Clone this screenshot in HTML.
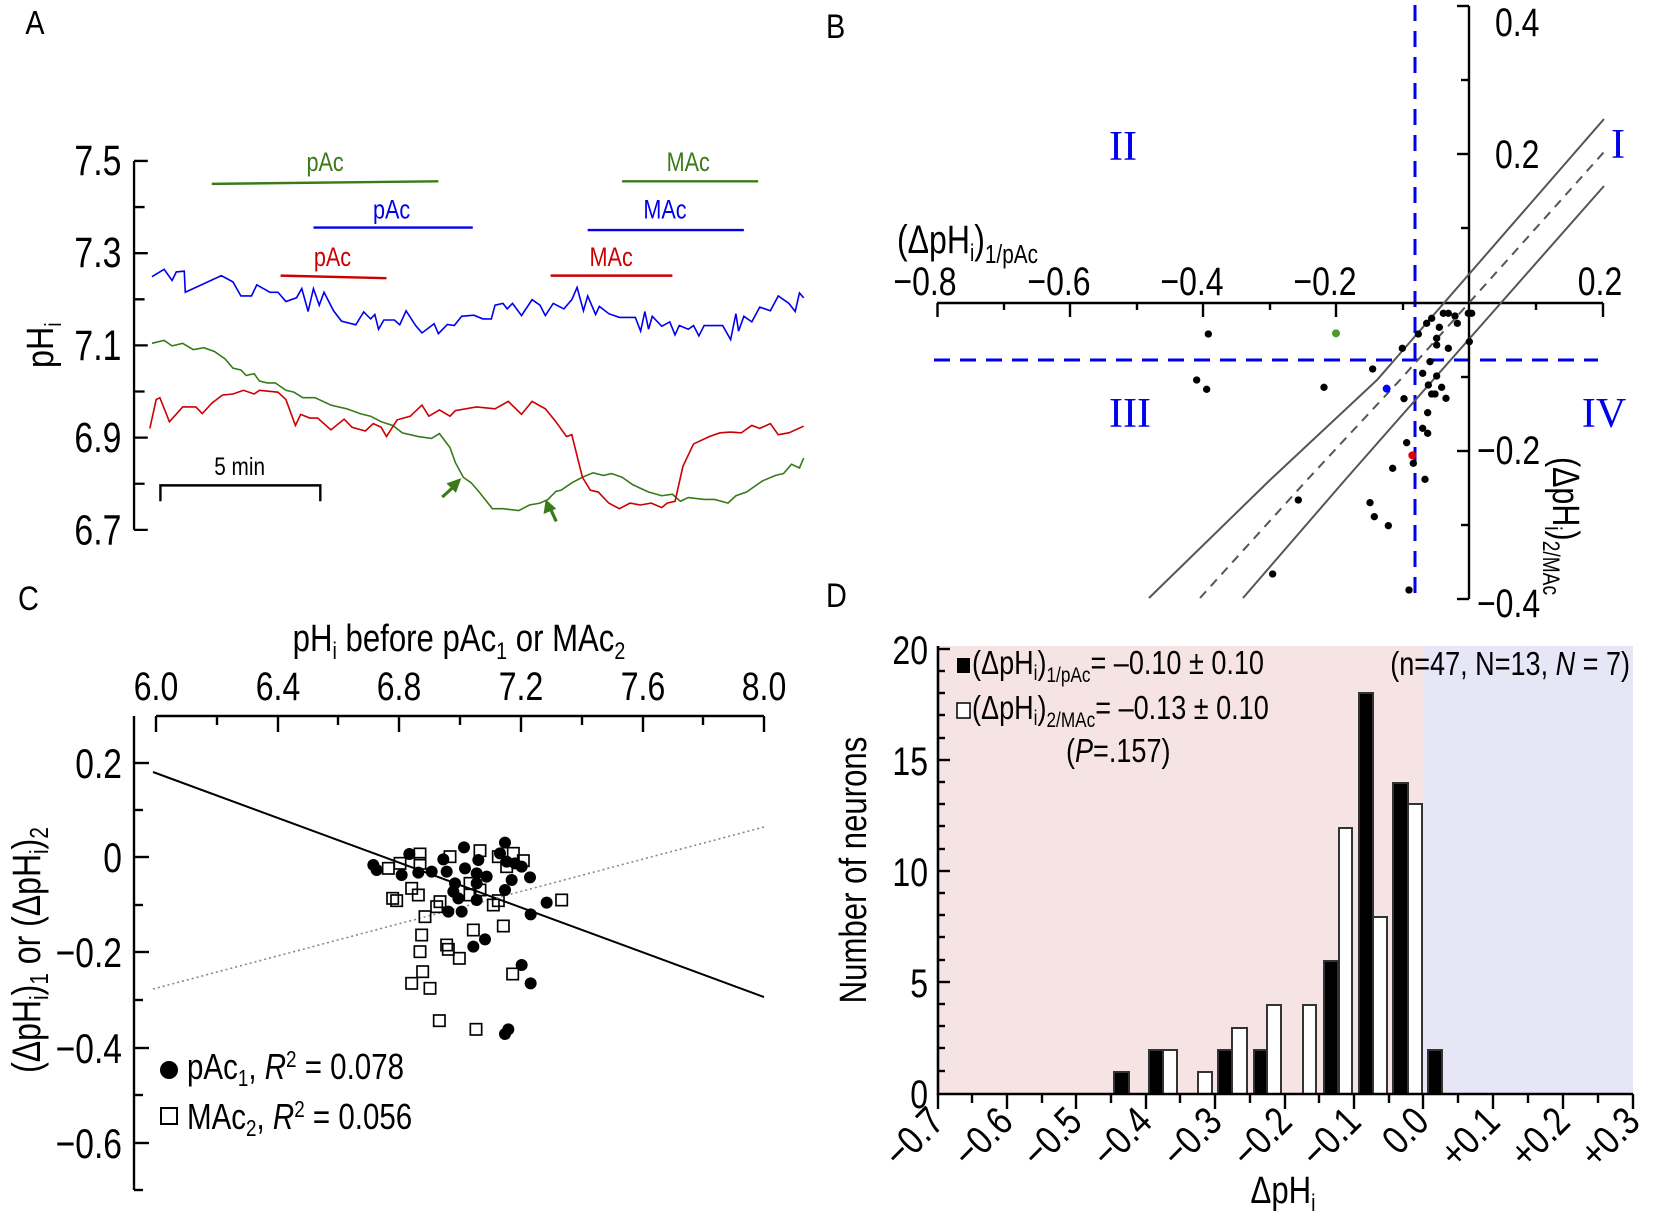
<!DOCTYPE html>
<html><head><meta charset="utf-8">
<style>
html,body{margin:0;padding:0;background:#fff;}
svg{display:block;}
text{font-family:"Liberation Sans",Arial,sans-serif;}
</style></head>
<body>
<svg width="1655" height="1217" viewBox="0 0 1655 1217" xmlns="http://www.w3.org/2000/svg">
<rect width="1655" height="1217" fill="#fff"/>

<!-- ============ PANEL A (view coords) ============ -->
<g transform="scale(1.0555)">
  <text transform="translate(24,32) scale(0.85,1)" font-size="32">A</text>
  <path d="M127 152.5 V502 M127 152.5 H140 M127 196.2 H137 M127 239.9 H140 M127 283.6 H137 M127 327.2 H140 M127 370.9 H137 M127 414.6 H140 M127 458.3 H137 M127 502 H140" stroke="#000" stroke-width="2.2" fill="none"/>
  <g font-size="40" text-anchor="end">
    <text transform="translate(115,166) scale(0.8,1)">7.5</text>
    <text transform="translate(115,253) scale(0.8,1)">7.3</text>
    <text transform="translate(115,341) scale(0.8,1)">7.1</text>
    <text transform="translate(115,428) scale(0.8,1)">6.9</text>
    <text transform="translate(115,516) scale(0.8,1)">6.7</text>
  </g>
  <text transform="translate(50,327) rotate(-90) scale(0.85,1)" font-size="36" text-anchor="middle">pH<tspan font-size="22" dy="8">i</tspan></text>

  <g transform="matrix(0.5016 0 0 0.3505 0 0)" fill="none" stroke-width="1.6">
    <path vector-effect="non-scaling-stroke" stroke="#0000ee" d="M287,748 L310,728 L325,758 L333,735 L348,733 L350,790 L418,745 L440,762 L455,800 L475,800 L485,770 L510,790 L525,790 L540,815 L560,805 L570,780 L582,842 L592,780 L603,825 L612,790 L630,840 L645,868 L672,878 L687,843 L700,862 L708,850 L715,890 L725,865 L745,865 L755,878 L767,840 L785,880 L797,900 L820,875 L828,902 L845,877 L858,880 L872,855 L895,852 L912,862 L928,862 L935,825 L950,820 L958,835 L968,820 L985,853 L1005,810 L1020,825 L1030,853 L1045,820 L1065,835 L1080,810 L1090,777 L1102,840 L1110,800 L1125,850 L1132,828 L1150,848 L1170,858 L1200,858 L1210,895 L1218,842 L1225,890 L1232,855 L1250,882 L1265,870 L1275,905 L1283,880 L1300,890 L1310,880 L1320,908 L1330,880 L1350,880 L1365,880 L1380,918 L1390,848 L1395,895 L1405,855 L1420,870 L1435,830 L1455,840 L1470,800 L1490,820 L1502,842 L1510,792 L1518,805"/>
    <path vector-effect="non-scaling-stroke" stroke="#3a7a1a" d="M287,928 L310,920 L325,935 L345,928 L365,945 L385,940 L405,950 L425,970 L440,995 L455,1000 L465,1015 L480,1010 L490,1030 L505,1035 L520,1035 L540,1055 L555,1060 L572,1075 L595,1075 L625,1095 L655,1105 L680,1118 L700,1125 L720,1140 L742,1150 L760,1170 L790,1180 L815,1185 L830,1172 L850,1210 L860,1250 L875,1290 L890,1305 L905,1330 L930,1375 L950,1375 L980,1380 L1000,1365 L1020,1360 L1035,1350 L1050,1328 L1060,1325 L1080,1305 L1100,1290 L1120,1278 L1140,1285 L1155,1280 L1175,1290 L1195,1310 L1210,1320 L1225,1330 L1250,1340 L1270,1336 L1285,1355 L1300,1345 L1330,1350 L1350,1350 L1375,1360 L1390,1340 L1410,1330 L1440,1300 L1465,1285 L1480,1280 L1495,1255 L1510,1265 L1518,1238"/>
    <path vector-effect="non-scaling-stroke" stroke="#cc0000" d="M283,1158 L295,1080 L302,1075 L320,1140 L345,1100 L370,1100 L382,1118 L400,1090 L420,1068 L440,1065 L460,1055 L480,1065 L490,1055 L525,1060 L540,1080 L558,1150 L568,1120 L585,1130 L600,1130 L625,1162 L650,1133 L665,1155 L690,1165 L705,1145 L720,1155 L730,1180 L750,1135 L775,1125 L797,1095 L810,1125 L830,1108 L850,1125 L860,1110 L900,1100 L935,1105 L960,1085 L985,1120 L1005,1085 L1030,1105 L1050,1140 L1070,1180 L1080,1175 L1100,1290 L1115,1325 L1130,1330 L1150,1360 L1170,1375 L1190,1360 L1210,1365 L1230,1360 L1250,1372 L1260,1360 L1275,1355 L1290,1260 L1310,1200 L1340,1180 L1360,1170 L1380,1168 L1400,1170 L1420,1150 L1435,1158 L1455,1145 L1470,1175 L1490,1170 L1518,1152"/>
    <g stroke-width="2.4">
      <path vector-effect="non-scaling-stroke" stroke="#3a7a1a" d="M400,497 L828,490 M1175,490 H1432"/>
      <path vector-effect="non-scaling-stroke" stroke="#0000ee" d="M592,615 H893 M1110,622 H1405"/>
      <path vector-effect="non-scaling-stroke" stroke="#cc0000" d="M530,745 L730,752 M1040,745 H1270"/>
      <path vector-effect="non-scaling-stroke" stroke="#000" d="M303,1355 V1312 H605 V1355"/>
    </g>
  </g>
  <g font-size="25" text-anchor="middle">
    <text transform="translate(308,162) scale(0.82,1)" fill="#3a7a1a">pAc</text>
    <text transform="translate(652,162) scale(0.82,1)" fill="#3a7a1a">MAc</text>
    <text transform="translate(371,207) scale(0.82,1)" fill="#0000ee">pAc</text>
    <text transform="translate(630,207) scale(0.82,1)" fill="#0000ee">MAc</text>
    <text transform="translate(315,252) scale(0.82,1)" fill="#cc0000">pAc</text>
    <text transform="translate(579,252) scale(0.82,1)" fill="#cc0000">MAc</text>
    <text transform="translate(227,450) scale(0.82,1)" fill="#000" font-size="24">5 min</text>
  </g>
  <g fill="#3a7a1a" stroke="#3a7a1a" stroke-width="3">
    <line x1="419" y1="471" x2="431" y2="460"/>
    <polygon points="437,453 423,458 432,467" stroke="none"/>
    <line x1="527" y1="494" x2="521" y2="481"/>
    <polygon points="517,473 515,487 527,482" stroke="none"/>
  </g>
</g>

<!-- ============ PANEL B (native coords) ============ -->
<text transform="translate(826,38) scale(0.85,1)" font-size="34">B</text>
<path d="M1415 5 V600 M934 360 H1598" stroke="#0000ee" stroke-width="3" stroke-dasharray="16,10" fill="none"/>
<path d="M937 303 H1603 M1469 6 V599" stroke="#000" stroke-width="2.4" fill="none"/>
<g stroke="#000" stroke-width="2.4">
  <line x1="937.5" y1="303" x2="937.5" y2="317"/><line x1="1004" y1="303" x2="1004" y2="310"/>
  <line x1="1070" y1="303" x2="1070" y2="317"/><line x1="1137" y1="303" x2="1137" y2="310"/>
  <line x1="1203" y1="303" x2="1203" y2="317"/><line x1="1270" y1="303" x2="1270" y2="310"/>
  <line x1="1336" y1="303" x2="1336" y2="317"/><line x1="1403" y1="303" x2="1403" y2="310"/>
  <line x1="1536" y1="303" x2="1536" y2="310"/><line x1="1603" y1="303" x2="1603" y2="317"/>
  <line x1="1457" y1="6" x2="1469" y2="6"/><line x1="1461" y1="80" x2="1469" y2="80"/>
  <line x1="1457" y1="154" x2="1469" y2="154"/><line x1="1461" y1="228" x2="1469" y2="228"/>
  <line x1="1461" y1="377" x2="1469" y2="377"/><line x1="1457" y1="451" x2="1469" y2="451"/>
  <line x1="1461" y1="525" x2="1469" y2="525"/><line x1="1457" y1="599" x2="1469" y2="599"/>
</g>
<g font-size="40" text-anchor="middle">
  <text transform="translate(925,295) scale(0.8,1)">−0.8</text>
  <text transform="translate(1059,295) scale(0.8,1)">−0.6</text>
  <text transform="translate(1192,295) scale(0.8,1)">−0.4</text>
  <text transform="translate(1325,295) scale(0.8,1)">−0.2</text>
  <text transform="translate(1600,295) scale(0.8,1)">0.2</text>
</g>
<g font-size="40">
  <text transform="translate(1495,36) scale(0.8,1)">0.4</text>
  <text transform="translate(1495,168) scale(0.8,1)">0.2</text>
  <text transform="translate(1477,464) scale(0.8,1)">−0.2</text>
  <text transform="translate(1477,617) scale(0.8,1)">−0.4</text>
</g>
<text transform="translate(897,253) scale(0.8,1)" font-size="40">(ΔpH<tspan font-size="24" dy="8">i</tspan><tspan dy="-8">)</tspan><tspan font-size="26" dy="10">1/pAc</tspan></text>
<text transform="translate(1553,457) rotate(90) scale(0.8,1)" font-size="38">(ΔpH<tspan font-size="24" dy="8">i</tspan><tspan dy="-8">)</tspan><tspan font-size="24" dy="10">2/MAc</tspan></text>
<g font-size="42" fill="#0000ee" text-anchor="middle" style="font-family:'Liberation Serif',serif">
  <text x="1123" y="160" style="font-family:'Liberation Serif',serif">II</text>
  <text x="1618" y="158" style="font-family:'Liberation Serif',serif">I</text>
  <text x="1130" y="427" style="font-family:'Liberation Serif',serif">III</text>
  <text x="1604" y="427" style="font-family:'Liberation Serif',serif">IV</text>
</g>
<g fill="none" stroke="#555" stroke-width="2">
  <polyline points="1149,598 1270,480 1377,380 1604,119"/>
  <polyline points="1243,598 1345,480 1433,380 1604,186"/>
  <polyline points="1200,598 1307,480 1400,380 1604,152" stroke-dasharray="9,7"/>
</g>
<g transform="translate(1100,280) scale(0.33333)" fill="#000">
  <circle cx="325" cy="162" r="11"/><circle cx="290" cy="300" r="11"/><circle cx="320" cy="328" r="11"/>
  <circle cx="672" cy="322" r="11"/><circle cx="818" cy="267" r="11"/><circle cx="907" cy="205" r="11"/>
  <circle cx="912" cy="356" r="11"/><circle cx="955" cy="162" r="11"/><circle cx="980" cy="130" r="11"/>
  <circle cx="995" cy="115" r="11"/><circle cx="1030" cy="100" r="11"/><circle cx="1045" cy="100" r="11"/>
  <circle cx="1065" cy="108" r="11"/><circle cx="1072" cy="130" r="11"/><circle cx="1018" cy="142" r="11"/>
  <circle cx="1010" cy="175" r="11"/><circle cx="1010" cy="195" r="11"/><circle cx="1045" cy="205" r="11"/>
  <circle cx="1105" cy="100" r="11"/><circle cx="1115" cy="100" r="11"/><circle cx="1108" cy="185" r="11"/>
  <circle cx="990" cy="245" r="11"/><circle cx="968" cy="280" r="11"/><circle cx="1010" cy="288" r="11"/>
  <circle cx="985" cy="315" r="11"/><circle cx="1025" cy="322" r="11"/><circle cx="995" cy="342" r="11"/>
  <circle cx="1005" cy="342" r="11"/><circle cx="1038" cy="355" r="11"/><circle cx="983" cy="398" r="11"/>
  <circle cx="968" cy="445" r="11"/><circle cx="983" cy="460" r="11"/><circle cx="920" cy="488" r="11"/>
  <circle cx="940" cy="550" r="11"/><circle cx="878" cy="565" r="11"/><circle cx="975" cy="598" r="11"/>
  <circle cx="595" cy="660" r="11"/><circle cx="810" cy="668" r="11"/><circle cx="823" cy="710" r="11"/>
  <circle cx="865" cy="737" r="11"/><circle cx="518" cy="882" r="11"/><circle cx="927" cy="930" r="11"/>
  <circle cx="708" cy="160" r="12" fill="#4a9a2a"/>
  <circle cx="860" cy="326" r="12" fill="#0000ff"/>
  <circle cx="937" cy="526" r="12" fill="#dd0000"/>
</g>

<!-- ============ PANEL C (native) ============ -->
<text transform="translate(18,610) scale(0.85,1)" font-size="34">C</text>
<text transform="translate(459,651) scale(0.82,1)" font-size="38" text-anchor="middle">pH<tspan font-size="24" dy="8">i</tspan><tspan dy="-8"> before pAc</tspan><tspan font-size="24" dy="8">1</tspan><tspan dy="-8"> or MAc</tspan><tspan font-size="24" dy="8">2</tspan></text>
<g font-size="40" text-anchor="middle">
  <text transform="translate(156,700) scale(0.8,1)">6.0</text><text transform="translate(278,700) scale(0.8,1)">6.4</text><text transform="translate(399,700) scale(0.8,1)">6.8</text>
  <text transform="translate(521,700) scale(0.8,1)">7.2</text><text transform="translate(643,700) scale(0.8,1)">7.6</text><text transform="translate(764,700) scale(0.8,1)">8.0</text>
</g>
<path d="M156 716 H764 M134 716 V1190" stroke="#000" stroke-width="2.4" fill="none"/>
<g stroke="#000" stroke-width="2.4">
  <line x1="156" y1="716" x2="156" y2="732"/><line x1="217" y1="716" x2="217" y2="725"/>
  <line x1="278" y1="716" x2="278" y2="732"/><line x1="338" y1="716" x2="338" y2="725"/>
  <line x1="399" y1="716" x2="399" y2="732"/><line x1="460" y1="716" x2="460" y2="725"/>
  <line x1="521" y1="716" x2="521" y2="732"/><line x1="582" y1="716" x2="582" y2="725"/>
  <line x1="643" y1="716" x2="643" y2="732"/><line x1="703" y1="716" x2="703" y2="725"/>
  <line x1="764" y1="716" x2="764" y2="732"/>
  <line x1="134" y1="763" x2="149" y2="763"/><line x1="134" y1="810" x2="143" y2="810"/>
  <line x1="134" y1="857" x2="149" y2="857"/><line x1="134" y1="905" x2="143" y2="905"/>
  <line x1="134" y1="952" x2="149" y2="952"/><line x1="134" y1="1000" x2="143" y2="1000"/>
  <line x1="134" y1="1048" x2="149" y2="1048"/><line x1="134" y1="1095" x2="143" y2="1095"/>
  <line x1="134" y1="1143" x2="149" y2="1143"/><line x1="134" y1="1190" x2="143" y2="1190"/>
</g>
<g font-size="42" text-anchor="end">
  <text transform="translate(122,778) scale(0.8,1)">0.2</text><text transform="translate(122,872) scale(0.8,1)">0</text><text transform="translate(122,967) scale(0.8,1)">−0.2</text>
  <text transform="translate(122,1063) scale(0.8,1)">−0.4</text><text transform="translate(122,1158) scale(0.8,1)">−0.6</text>
</g>
<text transform="translate(40,950) rotate(-90) scale(0.8,1)" font-size="40" text-anchor="middle">(ΔpH<tspan font-size="26" dy="8">i</tspan><tspan dy="-8">)</tspan><tspan font-size="26" dy="8">1</tspan><tspan dy="-8"> or (ΔpH</tspan><tspan font-size="26" dy="8">i</tspan><tspan dy="-8">)</tspan><tspan font-size="26" dy="8">2</tspan></text>
<line x1="153" y1="772" x2="764" y2="997" stroke="#000" stroke-width="2"/>
<line x1="153" y1="989" x2="764" y2="827" stroke="#888" stroke-width="1.6" stroke-dasharray="2,3"/>
<g transform="translate(380,830) scale(0.33333)">
  <g fill="none" stroke="#000" stroke-width="5">
    <rect x="103" y="55" width="34" height="34"/><rect x="43" y="83" width="34" height="34"/><rect x="103" y="83" width="34" height="34"/>
    <rect x="193" y="63" width="34" height="34"/><rect x="283" y="45" width="34" height="34"/><rect x="338" y="63" width="34" height="34"/>
    <rect x="383" y="53" width="34" height="34"/><rect x="413" y="75" width="34" height="34"/><rect x="363" y="93" width="34" height="34"/>
    <rect x="78" y="158" width="34" height="34"/><rect x="98" y="178" width="34" height="34"/><rect x="21" y="188" width="34" height="34"/>
    <rect x="33" y="195" width="34" height="34"/><rect x="163" y="198" width="34" height="34"/><rect x="153" y="213" width="34" height="34"/>
    <rect x="118" y="243" width="34" height="34"/><rect x="253" y="143" width="34" height="34"/><rect x="283" y="163" width="34" height="34"/>
    <rect x="253" y="178" width="34" height="34"/><rect x="323" y="208" width="34" height="34"/><rect x="338" y="195" width="34" height="34"/>
    <rect x="528" y="193" width="34" height="34"/><rect x="263" y="283" width="34" height="34"/><rect x="353" y="271" width="34" height="34"/>
    <rect x="108" y="298" width="34" height="34"/><rect x="183" y="328" width="34" height="34"/><rect x="188" y="341" width="34" height="34"/>
    <rect x="103" y="348" width="34" height="34"/><rect x="221" y="368" width="34" height="34"/><rect x="111" y="408" width="34" height="34"/>
    <rect x="78" y="443" width="34" height="34"/><rect x="133" y="458" width="34" height="34"/><rect x="381" y="415" width="34" height="34"/>
    <rect x="161" y="555" width="34" height="34"/><rect x="271" y="581" width="34" height="34"/>
    <rect x="8" y="98" width="34" height="34"/>
  </g>
  <g fill="#000">
    <circle cx="88" cy="72" r="18"/><circle cx="65" cy="135" r="18"/><circle cx="115" cy="128" r="18"/>
    <circle cx="155" cy="125" r="18"/><circle cx="190" cy="88" r="18"/><circle cx="200" cy="125" r="18"/>
    <circle cx="252" cy="52" r="18"/><circle cx="255" cy="115" r="18"/><circle cx="295" cy="90" r="18"/>
    <circle cx="290" cy="130" r="18"/><circle cx="320" cy="140" r="18"/><circle cx="375" cy="38" r="18"/>
    <circle cx="360" cy="70" r="18"/><circle cx="380" cy="95" r="18"/><circle cx="405" cy="100" r="18"/>
    <circle cx="425" cy="110" r="18"/><circle cx="450" cy="142" r="18"/><circle cx="395" cy="150" r="18"/>
    <circle cx="375" cy="180" r="18"/><circle cx="225" cy="160" r="18"/><circle cx="220" cy="185" r="18"/>
    <circle cx="235" cy="205" r="18"/><circle cx="205" cy="245" r="18"/><circle cx="245" cy="245" r="18"/>
    <circle cx="290" cy="210" r="18"/><circle cx="500" cy="218" r="18"/><circle cx="452" cy="253" r="18"/>
    <circle cx="315" cy="328" r="18"/><circle cx="280" cy="350" r="18"/><circle cx="425" cy="405" r="18"/>
    <circle cx="452" cy="460" r="18"/><circle cx="385" cy="598" r="18"/><circle cx="375" cy="612" r="18"/>
    <circle cx="290" cy="160" r="18"/><circle cx="-10" cy="120" r="18"/><circle cx="-20" cy="105" r="18"/>
  </g>
</g>
<circle cx="169" cy="1070" r="9" fill="#000"/>
<text transform="translate(187,1079) scale(0.82,1)" font-size="36">pAc<tspan font-size="23" dy="7">1</tspan><tspan dy="-7">, </tspan><tspan font-style="italic">R</tspan><tspan font-size="23" dy="-12">2</tspan><tspan dy="12"> = 0.078</tspan></text>
<rect x="161" y="1108" width="16" height="16" fill="none" stroke="#000" stroke-width="2"/>
<text transform="translate(187,1129) scale(0.82,1)" font-size="36">MAc<tspan font-size="23" dy="7">2</tspan><tspan dy="-7">, </tspan><tspan font-style="italic">R</tspan><tspan font-size="23" dy="-12">2</tspan><tspan dy="12"> = 0.056</tspan></text>

<!-- ============ PANEL D (native) ============ -->
<text transform="translate(826,607) scale(0.85,1)" font-size="34">D</text>
<rect x="938" y="646" width="486" height="448" fill="#f6e4e4"/>
<rect x="1424" y="646" width="209" height="448" fill="#e7e6f7"/>
<g stroke="#333" stroke-width="2">
  <rect x="1114" y="1072" width="15" height="22" fill="#000"/>
  <rect x="1149" y="1050" width="14" height="44" fill="#000"/><rect x="1163" y="1050" width="14" height="44" fill="#fff"/>
  <rect x="1198" y="1072" width="14" height="22" fill="#fff"/>
  <rect x="1218" y="1050" width="14" height="44" fill="#000"/><rect x="1232" y="1028" width="15" height="66" fill="#fff"/>
  <rect x="1254" y="1050" width="13" height="44" fill="#000"/><rect x="1267" y="1005" width="14" height="89" fill="#fff"/>
  <rect x="1303" y="1005" width="13" height="89" fill="#fff"/>
  <rect x="1324" y="961" width="14" height="133" fill="#000"/><rect x="1339" y="828" width="13" height="266" fill="#fff"/>
  <rect x="1359" y="693" width="14" height="401" fill="#000"/><rect x="1373" y="917" width="14" height="177" fill="#fff"/>
  <rect x="1393" y="783" width="15" height="311" fill="#000"/><rect x="1408" y="804" width="14" height="290" fill="#fff"/>
  <rect x="1428" y="1050" width="14" height="44" fill="#000"/>
</g>
<path d="M938 646 V1094 H1633" stroke="#000" stroke-width="2.6" fill="none"/>
<g stroke="#000" stroke-width="2.4">
  <line x1="938" y1="649" x2="950" y2="649"/><line x1="938" y1="671" x2="945" y2="671"/><line x1="938" y1="693" x2="945" y2="693"/>
  <line x1="938" y1="715" x2="945" y2="715"/><line x1="938" y1="738" x2="945" y2="738"/><line x1="938" y1="760" x2="950" y2="760"/>
  <line x1="938" y1="782" x2="945" y2="782"/><line x1="938" y1="804" x2="945" y2="804"/><line x1="938" y1="826" x2="945" y2="826"/>
  <line x1="938" y1="849" x2="945" y2="849"/><line x1="938" y1="871" x2="950" y2="871"/><line x1="938" y1="893" x2="945" y2="893"/>
  <line x1="938" y1="915" x2="945" y2="915"/><line x1="938" y1="937" x2="945" y2="937"/><line x1="938" y1="960" x2="945" y2="960"/>
  <line x1="938" y1="982" x2="950" y2="982"/><line x1="938" y1="1004" x2="945" y2="1004"/><line x1="938" y1="1026" x2="945" y2="1026"/>
  <line x1="938" y1="1048" x2="945" y2="1048"/><line x1="938" y1="1071" x2="945" y2="1071"/>
  <line x1="938" y1="1094" x2="938" y2="1109"/><line x1="972" y1="1094" x2="972" y2="1103"/>
  <line x1="1007" y1="1094" x2="1007" y2="1109"/><line x1="1042" y1="1094" x2="1042" y2="1103"/>
  <line x1="1076" y1="1094" x2="1076" y2="1109"/><line x1="1111" y1="1094" x2="1111" y2="1103"/>
  <line x1="1146" y1="1094" x2="1146" y2="1109"/><line x1="1180" y1="1094" x2="1180" y2="1103"/>
  <line x1="1215" y1="1094" x2="1215" y2="1109"/><line x1="1250" y1="1094" x2="1250" y2="1103"/>
  <line x1="1285" y1="1094" x2="1285" y2="1109"/><line x1="1319" y1="1094" x2="1319" y2="1103"/>
  <line x1="1354" y1="1094" x2="1354" y2="1109"/><line x1="1389" y1="1094" x2="1389" y2="1103"/>
  <line x1="1423" y1="1094" x2="1423" y2="1109"/><line x1="1458" y1="1094" x2="1458" y2="1103"/>
  <line x1="1493" y1="1094" x2="1493" y2="1109"/><line x1="1528" y1="1094" x2="1528" y2="1103"/>
  <line x1="1563" y1="1094" x2="1563" y2="1109"/><line x1="1598" y1="1094" x2="1598" y2="1103"/>
  <line x1="1633" y1="1094" x2="1633" y2="1109"/>
</g>
<g font-size="40" text-anchor="end">
  <text transform="translate(928,664) scale(0.8,1)">20</text><text transform="translate(928,775) scale(0.8,1)">15</text><text transform="translate(928,886) scale(0.8,1)">10</text>
  <text transform="translate(928,997) scale(0.8,1)">5</text><text transform="translate(928,1108) scale(0.8,1)">0</text>
</g>
<g font-size="40" text-anchor="end">
  <text transform="translate(946,1124) rotate(-45) scale(0.82,1)">−0.7</text>
  <text transform="translate(1015,1124) rotate(-45) scale(0.82,1)">−0.6</text>
  <text transform="translate(1084,1124) rotate(-45) scale(0.82,1)">−0.5</text>
  <text transform="translate(1154,1124) rotate(-45) scale(0.82,1)">−0.4</text>
  <text transform="translate(1224,1124) rotate(-45) scale(0.82,1)">−0.3</text>
  <text transform="translate(1294,1124) rotate(-45) scale(0.82,1)">−0.2</text>
  <text transform="translate(1363,1124) rotate(-45) scale(0.82,1)">−0.1</text>
  <text transform="translate(1431,1124) rotate(-45) scale(0.82,1)">0.0</text>
  <text transform="translate(1502,1124) rotate(-45) scale(0.82,1)">+0.1</text>
  <text transform="translate(1572,1124) rotate(-45) scale(0.82,1)">+0.2</text>
  <text transform="translate(1642,1124) rotate(-45) scale(0.82,1)">+0.3</text>
</g>
<text transform="translate(1283,1203) scale(0.82,1)" font-size="38" text-anchor="middle">ΔpH<tspan font-size="24" dy="8">i</tspan></text>
<text transform="translate(866,870) rotate(-90) scale(0.82,1)" font-size="38" text-anchor="middle">Number of neurons</text>
<rect x="957" y="658" width="13" height="15" fill="#000"/>
<text transform="translate(972,674) scale(0.82,1)" font-size="33">(ΔpH<tspan font-size="21" dy="6">i</tspan><tspan dy="-6">)</tspan><tspan font-size="21" dy="8">1/pAc</tspan><tspan dy="-8">= –0.10 ± 0.10</tspan></text>
<rect x="957" y="703" width="13" height="15" fill="#fff" stroke="#000" stroke-width="1.5"/>
<text transform="translate(972,719) scale(0.82,1)" font-size="33">(ΔpH<tspan font-size="21" dy="6">i</tspan><tspan dy="-6">)</tspan><tspan font-size="21" dy="8">2/MAc</tspan><tspan dy="-8">= –0.13 ± 0.10</tspan></text>
<text transform="translate(1066,762) scale(0.82,1)" font-size="33">(<tspan font-style="italic">P</tspan>=.157)</text>
<text transform="translate(1630,675) scale(0.82,1)" font-size="33" text-anchor="end">(n=47, N=13, <tspan font-style="italic">N</tspan> = 7)</text>
</svg>
</body></html>
